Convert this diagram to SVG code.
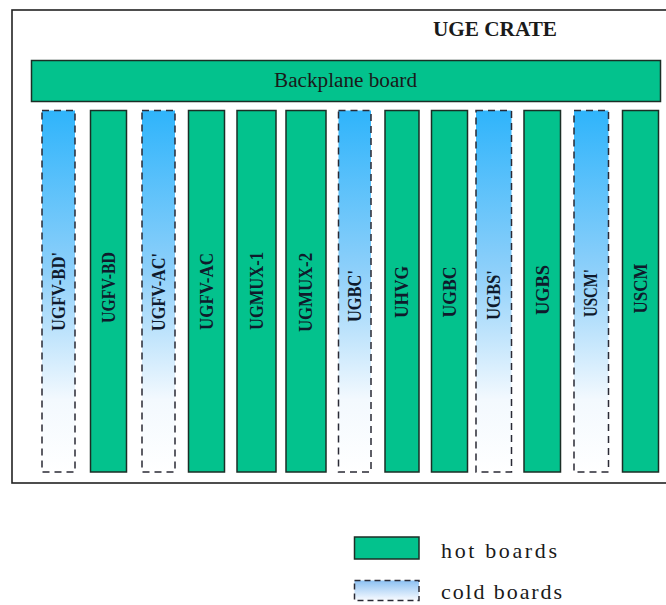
<svg xmlns="http://www.w3.org/2000/svg" width="666" height="605" viewBox="0 0 666 605">
<defs>
<linearGradient id="cold" x1="0" y1="0" x2="0" y2="1">
<stop offset="0" stop-color="#2fb4fb"/>
<stop offset="0.45" stop-color="#8fd0fa"/>
<stop offset="0.8" stop-color="#f3f9fe"/>
<stop offset="1" stop-color="#ffffff"/>
</linearGradient>
<linearGradient id="coldLeg" x1="0" y1="0" x2="0" y2="1">
<stop offset="0" stop-color="#8cc0f2"/>
<stop offset="1" stop-color="#f8fbff"/>
</linearGradient>
<style>
.hot{fill:#03c28d;stroke:#1b2e26;stroke-width:1.5}
.cold{fill:url(#cold);stroke:#2a2a35;stroke-width:1.5;stroke-dasharray:7 5}
.lbl{font-family:'Liberation Serif','Times New Roman',serif;font-weight:bold;font-size:18px;fill:#0f1a2c}
.txt{font-family:'Liberation Serif','Times New Roman',serif;fill:#1a1a1a}
</style>
</defs>
<rect width="666" height="605" fill="#ffffff"/>
<g id="crate">
<rect x="12" y="10" width="660" height="473" fill="none" stroke="#222" stroke-width="1.6"/>
<text class="txt" font-family="Liberation Serif, serif" x="495" y="36" font-size="21" font-weight="bold" text-anchor="middle" textLength="124" lengthAdjust="spacingAndGlyphs">UGE CRATE</text>
</g>
<g id="backplane">
<rect x="31.5" y="60.5" width="629" height="41" fill="#03c28d" stroke="#1b2e26" stroke-width="1.5"/>
<text class="txt" font-family="Liberation Serif, serif" x="345.5" y="87" font-size="20" text-anchor="middle" textLength="143" lengthAdjust="spacingAndGlyphs">Backplane board</text>
</g>
<g id="b-ugfv-bd-c"><rect class="cold" x="42" y="110.5" width="33" height="361.5"/><text class="lbl" transform="translate(64.5,331) rotate(-90)" textLength="79" lengthAdjust="spacingAndGlyphs">UGFV-BD'</text></g>
<g id="b-ugfv-bd"><rect class="hot" x="90.5" y="110.5" width="36" height="361.5"/><text class="lbl" transform="translate(114.5,323) rotate(-90)" textLength="71" lengthAdjust="spacingAndGlyphs">UGFV-BD</text></g>
<g id="b-ugfv-ac-c"><rect class="cold" x="142" y="110.5" width="33" height="361.5"/><text class="lbl" transform="translate(165,331) rotate(-90)" textLength="78" lengthAdjust="spacingAndGlyphs">UGFV-AC'</text></g>
<g id="b-ugfv-ac"><rect class="hot" x="188.5" y="110.5" width="36" height="361.5"/><text class="lbl" transform="translate(213,330) rotate(-90)" textLength="77" lengthAdjust="spacingAndGlyphs">UGFV-AC</text></g>
<g id="b-ugmux-1"><rect class="hot" x="237" y="110.5" width="39" height="361.5"/><text class="lbl" transform="translate(262.5,330) rotate(-90)" textLength="78" lengthAdjust="spacingAndGlyphs">UGMUX-1</text></g>
<g id="b-ugmux-2"><rect class="hot" x="286" y="110.5" width="40" height="361.5"/><text class="lbl" transform="translate(312,332) rotate(-90)" textLength="79" lengthAdjust="spacingAndGlyphs">UGMUX-2</text></g>
<g id="b-ugbc-c"><rect class="cold" x="338.5" y="110.5" width="32.5" height="361.5"/><text class="lbl" transform="translate(361,322) rotate(-90)" textLength="52" lengthAdjust="spacingAndGlyphs">UGBC'</text></g>
<g id="b-uhvg"><rect class="hot" x="385" y="110.5" width="34" height="361.5"/><text class="lbl" transform="translate(408,318) rotate(-90)" textLength="52" lengthAdjust="spacingAndGlyphs">UHVG</text></g>
<g id="b-ugbc"><rect class="hot" x="431.5" y="110.5" width="36" height="361.5"/><text class="lbl" transform="translate(455.5,317.5) rotate(-90)" textLength="51" lengthAdjust="spacingAndGlyphs">UGBC</text></g>
<g id="b-ugbs-c"><rect class="cold" x="476" y="110.5" width="35.5" height="361.5"/><text class="lbl" transform="translate(500,320) rotate(-90)" textLength="50" lengthAdjust="spacingAndGlyphs">UGBS'</text></g>
<g id="b-ugbs"><rect class="hot" x="524" y="110.5" width="36.5" height="361.5"/><text class="lbl" transform="translate(548.5,315) rotate(-90)" textLength="50" lengthAdjust="spacingAndGlyphs">UGBS</text></g>
<g id="b-uscm-c"><rect class="cold" x="574" y="110.5" width="34.5" height="361.5"/><text class="lbl" transform="translate(597,317) rotate(-90)" textLength="48" lengthAdjust="spacingAndGlyphs">USCM'</text></g>
<g id="b-uscm"><rect class="hot" x="622.5" y="110.5" width="36" height="361.5"/><text class="lbl" transform="translate(646.5,313.5) rotate(-90)" textLength="50" lengthAdjust="spacingAndGlyphs">USCM</text></g>
<g id="legend-hot">
<rect x="354.5" y="537" width="64.5" height="22" fill="#03c28d" stroke="#1b2e26" stroke-width="1.5"/>
<text class="txt" font-family="Liberation Serif, serif" x="441" y="558" font-size="22" textLength="116" lengthAdjust="spacing">hot boards</text>
</g>
<g id="legend-cold">
<rect x="354.5" y="580.5" width="64.5" height="20" fill="url(#coldLeg)" stroke="#2a2a35" stroke-width="1.5" stroke-dasharray="6 4"/>
<text class="txt" font-family="Liberation Serif, serif" x="441" y="599" font-size="22" textLength="121" lengthAdjust="spacing">cold boards</text>
</g>
<g id="connectors"></g>
</svg>
